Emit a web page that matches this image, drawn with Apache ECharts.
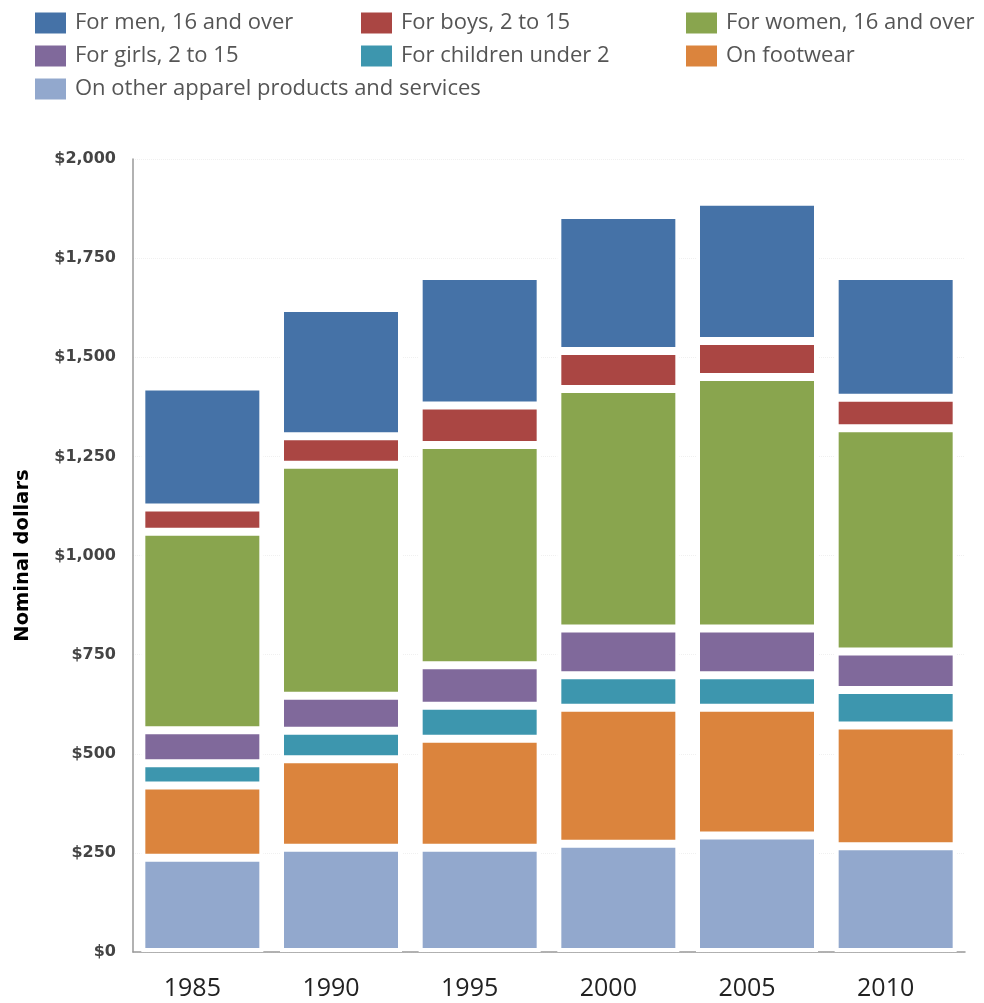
<!DOCTYPE html>
<html>
<head>
<meta charset="utf-8">
<script src="https://cdn.jsdelivr.net/npm/echarts@6/dist/echarts.min.js"></script>
<style>
  html, body { margin: 0; padding: 0; background: #fff; }
  #chart { width: 984px; height: 1003px; }
</style>
</head>
<body>
<div id="chart"></div>
<script>
// years on the x axis
var years = ['1985', '1990', '1995', '2000', '2005', '2010'];

// spending per series, nominal dollars
var menOver16 = [305, 323, 327, 343, 351, 307];
var boys2to15 = [61, 72, 99, 96, 91, 77];
var womenOver16 = [501, 583, 556, 604, 634, 563];
var girls2to15 = [83, 88, 102, 118, 118, 97];
var childrenUnder2 = [56, 72, 83, 82, 82, 90];
var footwear = [182, 223, 275, 343, 322, 304];
var otherApparel = [238, 263, 263, 273, 294, 267];

var chart = echarts.init(document.getElementById('chart'));

function bar(name, data, color) {
    return {
        name: name,
        type: 'bar',
        stack: 'total',
        barWidth: 122,
        data: data,
        itemStyle: {
            color: color,
            borderColor: '#ffffff',
            borderWidth: 4
        }
    };
}

function legendCol(left, names) {
    return {
        orient: 'vertical',
        left: left,
        top: 7,
        itemWidth: 31,
        itemHeight: 21,
        itemGap: 11,
        icon: 'rect',
        data: names,
        itemStyle: { borderWidth: 0 },
        textStyle: {
            fontFamily: 'Open Sans',
            fontSize: 22,
            color: '#555',
            padding: [0, 0, 0, 4]
        }
    };
}

var option = {
    animation: false,
    backgroundColor: '#fff',
    legend: [
        legendCol(30, ['For men, 16 and over', 'For girls, 2 to 15', 'On other apparel products and services']),
        legendCol(356, ['For boys, 2 to 15', 'For children under 2']),
        legendCol(681, ['For women, 16 and over', 'On footwear'])
    ],
    grid: {
        left: 133,
        right: 19,
        top: 159,
        bottom: 51
    },
    xAxis: {
        type: 'category',
        data: years,
        axisLine: { lineStyle: { color: '#999', width: 1.5 } },
        axisTick: { length: 8, lineStyle: { color: '#bbb' } },
        axisLabel: {
            margin: 24,
            fontFamily: 'Open Sans',
            fontSize: 25,
            color: '#222',
            padding: [0, 20, 0, 0]
        }
    },
    yAxis: {
        type: 'value',
        min: 0,
        max: 2000,
        interval: 250,
        name: 'Nominal dollars',
        nameLocation: 'middle',
        nameGap: 100,
        nameTextStyle: {
            fontFamily: 'DejaVu Sans',
            fontWeight: 'bold',
            fontSize: 19.5,
            color: '#000'
        },
        axisLine: { show: true, lineStyle: { color: '#999', width: 1.5 } },
        axisTick: { show: false },
        splitLine: { lineStyle: { color: '#f0f0f0', type: 'dotted' } },
        axisLabel: {
            margin: 17,
            fontFamily: 'DejaVu Sans',
            fontWeight: 'bold',
            fontSize: 16,
            color: '#444',
            formatter: function (v) {
                return '$' + v.toLocaleString('en-US');
            }
        }
    },
    series: [
        bar('On other apparel products and services', otherApparel, '#92A8CD'),
        bar('On footwear', footwear, '#DB843D'),
        bar('For children under 2', childrenUnder2, '#3D96AE'),
        bar('For girls, 2 to 15', girls2to15, '#80699B'),
        bar('For women, 16 and over', womenOver16, '#89A54E'),
        bar('For boys, 2 to 15', boys2to15, '#AA4643'),
        bar('For men, 16 and over', menOver16, '#4572A7')
    ]
};

chart.setOption(option);
</script>
</body>
</html>
